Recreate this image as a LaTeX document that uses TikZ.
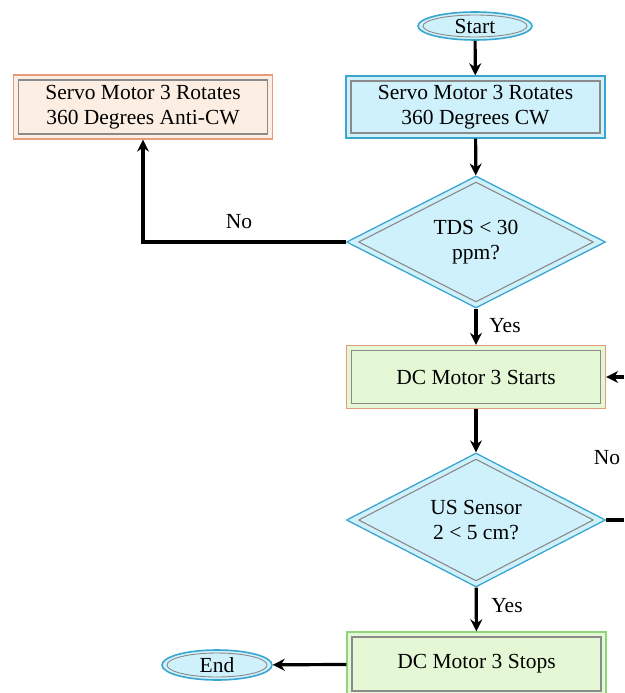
\documentclass[tikz,border=0pt]{standalone}
\usepackage{fontspec}
\setmainfont{LiberationSerif}[Extension=.ttf, UprightFont=*-Regular, BoldFont=*-Bold]
\usetikzlibrary{shapes.geometric,arrows.meta}
\definecolor{cyanfill}{HTML}{CFF1FB}
\definecolor{cyanline}{HTML}{3AA6D0}
\definecolor{peachfill}{HTML}{FDEEE3}
\definecolor{peachline}{HTML}{E59B7C}
\definecolor{greenfill}{HTML}{E4F8D6}
\definecolor{greenline}{HTML}{8ED67B}
\definecolor{bevel}{HTML}{8A8A8A}
\begin{document}
\begin{tikzpicture}[x=1pt,y=-1pt, font=\fontsize{21.5}{25}\selectfont,
  boxbase/.style={rectangle, minimum width=259pt, minimum height=62pt, align=center, inner sep=0pt, line width=1.3pt,
    path picture={\draw[bevel,line width=1.3pt] ([xshift=5pt,yshift=5pt]path picture bounding box.south west) rectangle ([xshift=-5pt,yshift=-5pt]path picture bounding box.north east);}},
  boxcyan/.style={boxbase, fill=cyanfill, draw=cyanline},
  boxpeach/.style={boxbase, fill=peachfill, draw=peachline},
  boxstart/.style={boxbase, fill=greenfill, draw=peachline},
  boxgreen/.style={boxbase, fill=greenfill, draw=greenline},
  dia/.style={diamond, aspect=2, minimum width=259pt, minimum height=132pt, inner sep=0pt, align=center,
    fill=cyanfill, draw=cyanline, line width=1.3pt,
    path picture={\draw[bevel,line width=1.1pt] ([yshift=-6pt]path picture bounding box.north) -- ([xshift=-12pt]path picture bounding box.east) -- ([yshift=6pt]path picture bounding box.south) -- ([xshift=12pt]path picture bounding box.west) -- cycle;}},
  ell/.style={ellipse, inner sep=0pt, fill=cyanfill, draw=cyanline, line width=1.6pt,
    path picture={\draw[bevel,line width=0.9pt] (path picture bounding box.center) ellipse [x radius=\pgfkeysvalueof{/tikz/ellrx}, y radius=\pgfkeysvalueof{/tikz/ellry}];}},
  ellrx/.initial=50pt, ellry/.initial=11pt,
  conn/.style={line width=3.2pt, -{Stealth[length=12pt,width=12pt]}},
  plain/.style={line width=3.2pt},
  lbl/.style={inner sep=0pt}
]
\useasboundingbox (0,0) rectangle (624,693);

\node[ell, minimum width=114pt, minimum height=28pt, ellrx=52pt, ellry=11pt] (start) at (475,26) {Start};
\node[boxcyan] (cw) at (475.5,107) {Servo Motor 3 Rotates\\360 Degrees CW};
\node[boxpeach, minimum height=64pt] (acw) at (143,107) {Servo Motor 3 Rotates\\360 Degrees Anti-CW};
\node[dia] (tds) at (476,242) {TDS < 30\\ppm?};
\node[boxstart, minimum height=63pt] (dcs) at (476,377) {DC Motor 3 Starts};
\node[dia, minimum height=134pt] (us) at (476,520) {US Sensor\\2 < 5 cm?};
\node[boxgreen, minimum height=64pt] (dcstop) at (476.5,664) {DC Motor 3 Stops};
\node[ell, minimum width=110pt, minimum height=30pt, ellrx=50pt, ellry=12pt] (end) at (217,665) {End};

\coordinate (r1) at (624,520);
\coordinate (r2) at (624,377);

\draw[conn] (start) -- (cw);
\draw[conn] (cw) -- (tds);
\draw[conn] (tds.west) -| (acw.south);
\draw[conn] (tds) -- (dcs);
\draw[conn] (dcs) -- (us);
\draw[conn] (us) -- (dcstop);
\draw[conn] (dcstop) -- (end);
\draw[plain] (us.east) -- (r1);
\draw[conn] (r2) -- (dcs.east);

\node[lbl] (no1) at (239,222) {No};
\node[lbl] (yes1) at (505,326) {Yes};
\node[lbl] (no2) at (607,458) {No};
\node[lbl] (yes2) at (507,606) {Yes};
\end{tikzpicture}
\end{document}
